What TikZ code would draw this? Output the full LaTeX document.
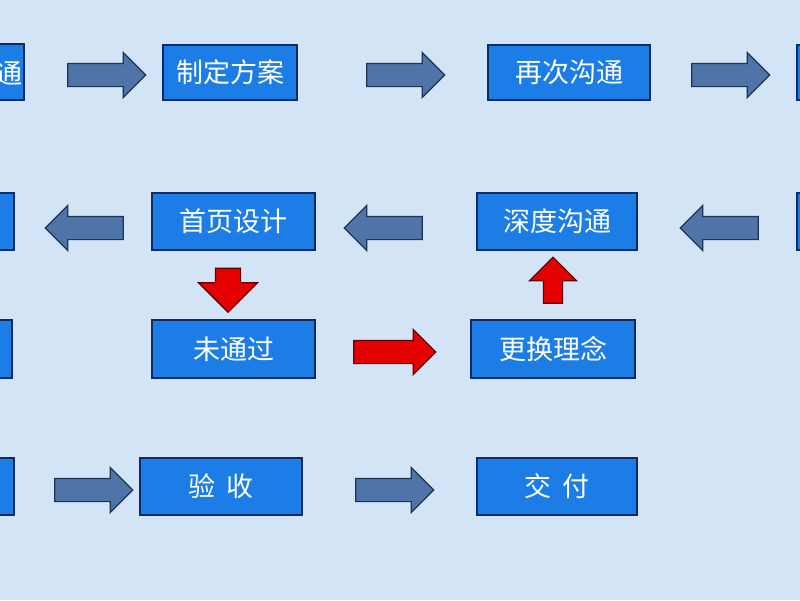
\documentclass[tikz,border=0pt]{standalone}
\usepackage{fontspec}
\newfontfamily\cjk{Noto Sans CJK SC}
\usetikzlibrary{shapes.arrows}
\definecolor{bg}{HTML}{D3E4F7}
\definecolor{boxf}{HTML}{1C7DE6}
\definecolor{boxd}{HTML}{0E2B66}
\definecolor{arf}{HTML}{4E74A8}
\definecolor{ard}{HTML}{1E3454}
\tikzset{
 box/.style={draw=boxd,line width=1.6pt,fill=boxf,text=white,font=\cjk\fontsize{27}{27}\selectfont,inner sep=0pt},
 ar/.style={single arrow,draw=ard,fill=arf,line width=1.2pt,minimum height=78pt,minimum width=44pt,inner sep=11pt,single arrow head extend=11pt,single arrow head indent=0pt,anchor=center},
 rar/.style={ar,fill=red!90!black,draw=red!40!black},
}
\newcommand{\bx}[6]{\node[box,minimum width=#4-#2,minimum height=#5-#3] (#1) at ({(#2+#4)/2},{(#3+#5)/2}) {#6};}
\begin{document}
\begin{tikzpicture}[x=1pt,y=-1pt]
\fill[bg] (0,0) rectangle (800,600);
\useasboundingbox (0,0) rectangle (800,600);
% row 1
\bx{l1}{-150}{44}{24}{100}{}
\node[box,draw=none,fill=none,anchor=east] (t1) at (23,73) {沟通};
\bx{a1}{163}{45}{297}{100}{制定方案}
\bx{a2}{488}{45}{650}{100}{再次沟通}
\bx{r1}{797}{45}{950}{100}{}
\node[ar] (p1) at (101,75) {};
\node[ar] (p2) at (400,75) {};
\node[ar] (p3) at (725,75) {};
% row 2
\bx{l2}{-150}{193}{14}{250}{}
\bx{b1}{152}{193}{315}{250}{首页设计}
\bx{b2}{477}{193}{637}{250}{深度沟通}
\bx{r2}{797}{193}{950}{250}{}
\node[ar,shape border rotate=180] (q1) at (90,228) {};
\node[ar,shape border rotate=180] (q2) at (389,228) {};
\node[ar,shape border rotate=180] (q3) at (725,228) {};
% row 3
\bx{l3}{-150}{320}{12}{378}{}
\bx{c1}{152}{320}{315}{378}{未通过}
\bx{c2}{471}{320}{635}{378}{更换理念}
\node[rar,minimum height=82pt] (red1) at (389,352) {};
\node[rar,shape border rotate=270,minimum height=44pt,minimum width=58pt,inner sep=12pt,single arrow head extend=17pt] (red2) at (228,284) {};
\node[rar,shape border rotate=90,minimum height=46pt,minimum width=46pt,inner sep=9pt,single arrow head extend=14pt] (red3) at (553,285) {};
% row 4
\bx{l4}{-150}{458}{14}{515}{}
\bx{d1}{140}{458}{302}{515}{验\hspace{0.4em}收}
\bx{d2}{477}{458}{637}{515}{交\hspace{0.4em}付}
\node[ar] (s1) at (88,490) {};
\node[ar] (s2) at (389,490) {};
\end{tikzpicture}
\end{document}
